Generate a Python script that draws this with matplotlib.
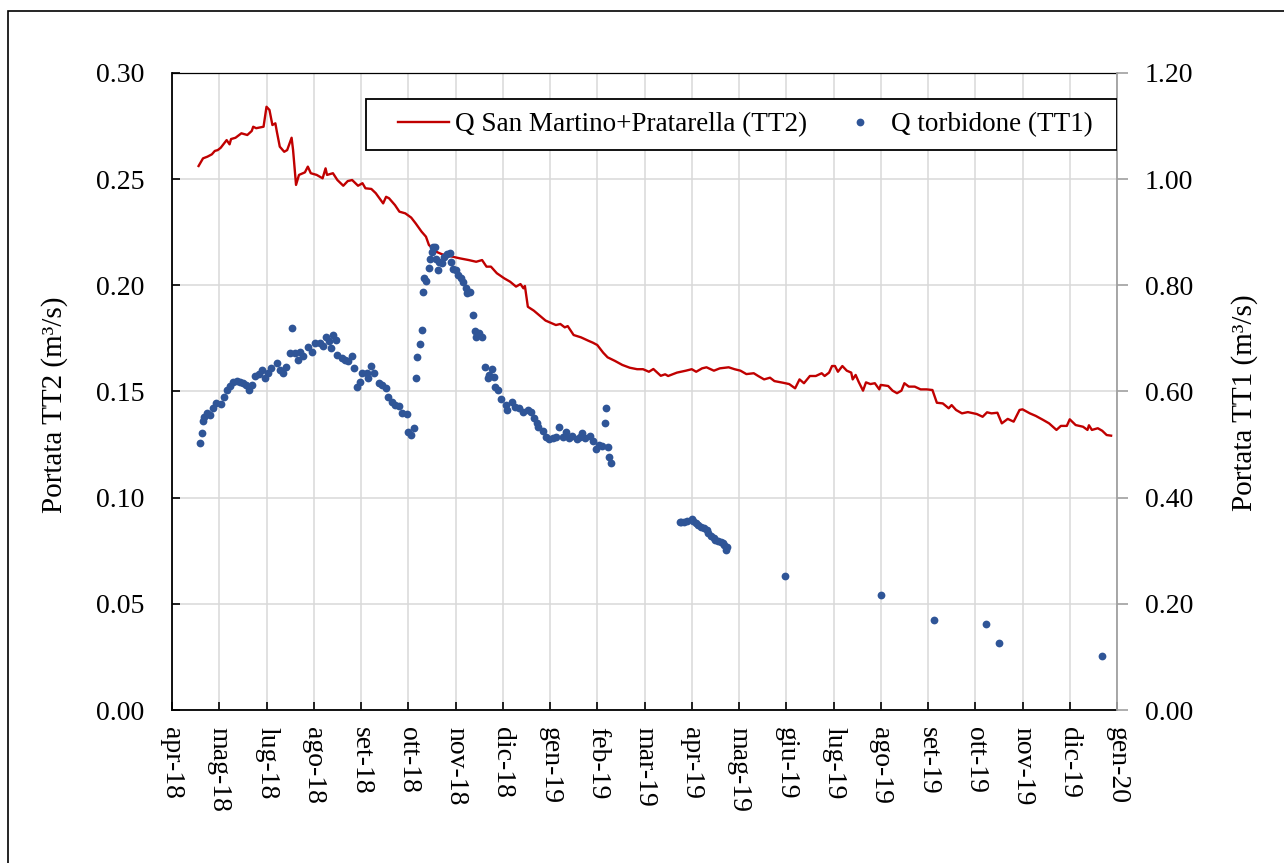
import matplotlib
matplotlib.use('Agg')
import matplotlib.pyplot as plt
import matplotlib.dates as mdates
from matplotlib.ticker import FuncFormatter, MultipleLocator
from matplotlib.patches import Rectangle
from matplotlib.lines import Line2D
import pandas as pd

plt.rcParams['font.family'] = ['Liberation Serif', 'DejaVu Serif']
plt.rcParams['font.size'] = 20

# Q San Martino+Pratarella (TT2), left axis, m3/s
tt2_dates = [
    '2018-05-17', '2018-05-20', '2018-05-23', '2018-05-26', '2018-05-28', '2018-05-30',
    '2018-06-01', '2018-06-05', '2018-06-07', '2018-06-08', '2018-06-11', '2018-06-15',
    '2018-06-19', '2018-06-22', '2018-06-23', '2018-06-25', '2018-06-30', '2018-07-02',
    '2018-07-04', '2018-07-06', '2018-07-08', '2018-07-09', '2018-07-11', '2018-07-14',
    '2018-07-16', '2018-07-19', '2018-07-20', '2018-07-22', '2018-07-24', '2018-07-28',
    '2018-07-30', '2018-08-01', '2018-08-05', '2018-08-09', '2018-08-11', '2018-08-12',
    '2018-08-16', '2018-08-19', '2018-08-23', '2018-08-26', '2018-08-29', '2018-09-02',
    '2018-09-05', '2018-09-07', '2018-09-11', '2018-09-14', '2018-09-19', '2018-09-21',
    '2018-09-23', '2018-09-27', '2018-09-30', '2018-10-04', '2018-10-08', '2018-10-11',
    '2018-10-15', '2018-10-18', '2018-10-20', '2018-10-25', '2018-10-29', '2018-11-05',
    '2018-11-10', '2018-11-16', '2018-11-21', '2018-11-25', '2018-11-28', '2018-12-01',
    '2018-12-05', '2018-12-10', '2018-12-14', '2018-12-18', '2018-12-21', '2018-12-23',
    '2018-12-24', '2018-12-26', '2018-12-30', '2019-01-07', '2019-01-14', '2019-01-17',
    '2019-01-20', '2019-01-22', '2019-01-26', '2019-01-31', '2019-02-05', '2019-02-08',
    '2019-02-11', '2019-02-15', '2019-02-18', '2019-02-23', '2019-02-28', '2019-03-05',
    '2019-03-10', '2019-03-14', '2019-03-18', '2019-03-21', '2019-03-26', '2019-03-29',
    '2019-03-31', '2019-04-06', '2019-04-12', '2019-04-16', '2019-04-19', '2019-04-23',
    '2019-04-26', '2019-05-01', '2019-05-05', '2019-05-11', '2019-05-15', '2019-05-19',
    '2019-05-23', '2019-05-28', '2019-05-31', '2019-06-04', '2019-06-08', '2019-06-11',
    '2019-06-17', '2019-06-21', '2019-06-25', '2019-06-28', '2019-07-01', '2019-07-05',
    '2019-07-09', '2019-07-13', '2019-07-15', '2019-07-18', '2019-07-20', '2019-07-22',
    '2019-07-24', '2019-07-27', '2019-07-30', '2019-08-02', '2019-08-03', '2019-08-05',
    '2019-08-07', '2019-08-10', '2019-08-12', '2019-08-15', '2019-08-18', '2019-08-21',
    '2019-08-22', '2019-08-27', '2019-08-30', '2019-09-02', '2019-09-05', '2019-09-07',
    '2019-09-10', '2019-09-14', '2019-09-18', '2019-09-22', '2019-09-26', '2019-09-29',
    '2019-10-03', '2019-10-07', '2019-10-09', '2019-10-12', '2019-10-16', '2019-10-20',
    '2019-10-26', '2019-10-30', '2019-11-02', '2019-11-05', '2019-11-09', '2019-11-12',
    '2019-11-16', '2019-11-20', '2019-11-24', '2019-11-26', '2019-12-01', '2019-12-05',
    '2019-12-10', '2019-12-14', '2019-12-19', '2019-12-22', '2019-12-26', '2019-12-28',
    '2020-01-01', '2020-01-06', '2020-01-09', '2020-01-10', '2020-01-12', '2020-01-16',
    '2020-01-19', '2020-01-22', '2020-01-25',
]
tt2_values = [
    0.2562, 0.2598, 0.2606, 0.2617, 0.2633, 0.2637,
    0.2648, 0.2684, 0.2664, 0.2689, 0.2695, 0.2716,
    0.2708, 0.2727, 0.2747, 0.2740, 0.2747, 0.2841,
    0.2826, 0.2755, 0.2763, 0.2724, 0.2653, 0.2629,
    0.2637, 0.2695, 0.2637, 0.2473, 0.2520, 0.2532,
    0.2559, 0.2528, 0.2520, 0.2504, 0.2551, 0.2520,
    0.2528, 0.2496, 0.2469, 0.2491, 0.2496, 0.2469,
    0.2481, 0.2457, 0.2454, 0.2434, 0.2386, 0.2417,
    0.2410, 0.2378, 0.2347, 0.2339, 0.2319, 0.2292,
    0.2253, 0.2229, 0.2190, 0.2158, 0.2146, 0.2135,
    0.2127, 0.2119, 0.2111, 0.2119, 0.2088, 0.2088,
    0.2057, 0.2033, 0.2017, 0.1994, 0.2006, 0.1986,
    0.1997, 0.1899, 0.1881, 0.1834, 0.1813, 0.1818,
    0.1802, 0.1808, 0.1766, 0.1755, 0.1739, 0.1730,
    0.1719, 0.1683, 0.1661, 0.1644, 0.1625, 0.1612,
    0.1605, 0.1605, 0.1593, 0.1606, 0.1574, 0.1581,
    0.1573, 0.1589, 0.1598, 0.1605, 0.1593, 0.1609,
    0.1614, 0.1598, 0.1609, 0.1614, 0.1605, 0.1598,
    0.1582, 0.1586, 0.1573, 0.1557, 0.1565, 0.1549,
    0.1541, 0.1535, 0.1515, 0.1557, 0.1539, 0.1573,
    0.1573, 0.1586, 0.1573, 0.1589, 0.1620, 0.1620,
    0.1593, 0.1620, 0.1598, 0.1589, 0.1557, 0.1578,
    0.1546, 0.1504, 0.1543, 0.1535, 0.1539, 0.1510,
    0.1531, 0.1526, 0.1504, 0.1492, 0.1504, 0.1539,
    0.1523, 0.1523, 0.1510, 0.1510, 0.1507, 0.1447,
    0.1444, 0.1421, 0.1436, 0.1413, 0.1397, 0.1403,
    0.1394, 0.1381, 0.1402, 0.1397, 0.1400, 0.1350,
    0.1371, 0.1358, 0.1413, 0.1416, 0.1397, 0.1385,
    0.1366, 0.1350, 0.1319, 0.1338, 0.1338, 0.1369,
    0.1342, 0.1334, 0.1319, 0.1341, 0.1319, 0.1327,
    0.1315, 0.1295, 0.1292,
]

# Q torbidone (TT1), right axis, m3/s
tt1_dates = [
    '2018-05-18', '2018-05-19', '2018-05-20', '2018-05-21', '2018-05-23', '2018-05-25',
    '2018-05-27', '2018-05-29', '2018-06-01', '2018-06-03', '2018-06-05', '2018-06-07',
    '2018-06-09', '2018-06-12', '2018-06-14', '2018-06-16', '2018-06-18', '2018-06-20',
    '2018-06-22', '2018-06-24', '2018-06-27', '2018-06-29', '2018-07-01', '2018-07-03',
    '2018-07-05', '2018-07-09', '2018-07-11', '2018-07-13', '2018-07-15', '2018-07-19',
    '2018-07-18', '2018-07-21', '2018-07-23', '2018-07-25', '2018-07-27', '2018-07-30',
    '2018-08-02', '2018-08-04', '2018-08-07', '2018-08-09', '2018-08-11', '2018-08-13',
    '2018-08-15', '2018-08-16', '2018-08-18', '2018-08-19', '2018-08-22', '2018-08-24',
    '2018-08-26', '2018-08-29', '2018-08-30', '2018-09-01', '2018-09-03', '2018-09-05',
    '2018-09-08', '2018-09-09', '2018-09-11', '2018-09-13', '2018-09-16', '2018-09-18',
    '2018-09-21', '2018-09-22', '2018-09-25', '2018-09-27', '2018-09-30', '2018-10-02',
    '2018-10-05', '2018-10-06', '2018-10-08', '2018-10-10', '2018-10-11', '2018-10-12',
    '2018-10-14', '2018-10-15', '2018-10-16', '2018-10-17', '2018-10-18', '2018-10-20',
    '2018-10-21', '2018-10-22', '2018-10-23', '2018-10-24', '2018-10-25', '2018-10-26',
    '2018-10-27', '2018-10-29', '2018-10-30', '2018-11-01', '2018-11-03', '2018-11-04',
    '2018-11-05', '2018-11-07', '2018-11-09', '2018-11-11', '2018-11-12', '2018-11-14',
    '2018-11-15', '2018-11-17', '2018-11-19', '2018-11-20', '2018-11-21', '2018-11-23',
    '2018-11-25', '2018-11-27', '2018-11-29', '2018-11-30', '2018-12-02', '2018-12-03',
    '2018-12-04', '2018-12-06', '2018-12-08', '2018-12-11', '2018-12-12', '2018-12-15',
    '2018-12-17', '2018-12-20', '2018-12-23', '2018-12-26', '2018-12-28', '2018-12-30',
    '2019-01-01', '2019-01-02', '2019-01-05', '2019-01-07', '2019-01-09', '2019-01-12',
    '2019-01-14', '2019-01-16', '2019-01-19', '2019-01-21', '2019-01-23', '2019-01-25',
    '2019-01-28', '2019-01-30', '2019-02-01', '2019-02-03', '2019-02-06', '2019-02-08',
    '2019-02-10', '2019-02-12', '2019-02-14', '2019-02-16', '2019-02-17', '2019-02-18',
    '2019-02-19', '2019-02-20',
    '2019-04-08', '2019-04-09', '2019-04-11', '2019-04-13', '2019-04-16', '2019-04-17',
    '2019-04-19', '2019-04-20', '2019-04-22', '2019-04-24', '2019-04-26', '2019-04-27',
    '2019-04-29', '2019-05-01', '2019-05-02', '2019-05-04', '2019-05-06', '2019-05-07',
    '2019-05-08', '2019-05-09', '2019-05-10',
    '2019-06-18', '2019-08-22', '2019-09-27', '2019-11-01', '2019-11-10', '2020-01-19',
]
tt1_values = [
    0.5024, 0.5213, 0.5450, 0.5525, 0.5589, 0.5557,
    0.5683, 0.5778, 0.5764, 0.5902, 0.6028, 0.6104,
    0.6185, 0.6203, 0.6185, 0.6154, 0.6122, 0.6028,
    0.6122, 0.6292, 0.6330, 0.6405, 0.6249, 0.6343,
    0.6437, 0.6543, 0.6405, 0.6354, 0.6467, 0.7202,
    0.6720, 0.6731, 0.6593, 0.6750, 0.6669, 0.6844,
    0.6750, 0.6919, 0.6908, 0.6857, 0.7032, 0.6957,
    0.6814, 0.7064, 0.6970, 0.6687, 0.6625, 0.6593,
    0.6580, 0.6669, 0.6437, 0.6079, 0.6185, 0.6354,
    0.6343, 0.6249, 0.6480, 0.6343, 0.6154, 0.6122,
    0.6060, 0.5902, 0.5808, 0.5746, 0.5727, 0.5601,
    0.5576, 0.5243, 0.5180, 0.5307, 0.6260, 0.6650,
    0.6895, 0.7158, 0.7880, 0.8132, 0.8087, 0.8321,
    0.8490, 0.8634, 0.8716, 0.8716, 0.8490, 0.8289,
    0.8445, 0.8415, 0.8539, 0.8590, 0.8615, 0.8445,
    0.8302, 0.8289, 0.8195, 0.8132, 0.8068, 0.7944,
    0.7850, 0.7880, 0.7441, 0.7145, 0.7032, 0.7096,
    0.7032, 0.6456, 0.6249, 0.6311, 0.6418, 0.6279,
    0.6090, 0.6028, 0.5853, 0.5746, 0.5651, 0.5808,
    0.5714, 0.5683, 0.5619, 0.5651, 0.5619, 0.5495,
    0.5401, 0.5337, 0.5261, 0.5149, 0.5099, 0.5118,
    0.5149, 0.5337, 0.5149, 0.5243, 0.5118, 0.5162,
    0.5099, 0.5149, 0.5224, 0.5118, 0.5162, 0.5073,
    0.4911, 0.4992, 0.4973, 0.5401, 0.5683, 0.4949,
    0.4772, 0.4659,
    0.3547, 0.3551, 0.3551, 0.3566, 0.3592, 0.3560,
    0.3528, 0.3494, 0.3453, 0.3429, 0.3391, 0.3334,
    0.3278, 0.3240, 0.3202, 0.3193, 0.3170, 0.3146,
    0.3108, 0.3014, 0.3065,
    0.2524, 0.2166, 0.1695, 0.1620, 0.1262, 0.1017,
]

mesi = ['gen', 'feb', 'mar', 'apr', 'mag', 'giu', 'lug', 'ago', 'set', 'ott', 'nov', 'dic']
tick_start = pd.Timestamp('2018-04-29')
tick_step = 32   # days between x ticks (excel date axis)
n_ticks = 21

red = '#C00000'
blue = '#2F5597'
grid_col = '#D9D9D9'
right_col = '#A0A0A0'

W, H = 1284, 863
fig = plt.figure(figsize=(W / 100, H / 100), dpi=100)
ax = fig.add_axes([172 / W, 1 - 710 / H, 945 / W, 637 / H])
ax2 = ax.twinx()

ax.plot(pd.to_datetime(tt2_dates), tt2_values, color=red, lw=1.7, solid_joinstyle='round')
ax2.plot(pd.to_datetime(tt1_dates), tt1_values, ls='none', marker='o', ms=5.6,
         mec='none', color=blue)

x0 = mdates.date2num(tick_start)
ticks = [x0 + tick_step * k for k in range(n_ticks)]
ax.set_xlim(x0, x0 + tick_step * (n_ticks - 1))
ax.set_xticks(ticks)

def fmt_date(x, pos):
    d = mdates.num2date(x)
    return '%s-%02d' % (mesi[d.month - 1], d.year % 100)

ax.xaxis.set_major_formatter(FuncFormatter(fmt_date))

ax.set_ylim(0, 0.30)
ax.yaxis.set_major_locator(MultipleLocator(0.05))
ax.yaxis.set_major_formatter(FuncFormatter(lambda v, p: '%.2f' % v))
ax2.set_ylim(0, 1.20)
ax2.yaxis.set_major_locator(MultipleLocator(0.20))
ax2.yaxis.set_major_formatter(FuncFormatter(lambda v, p: '%.2f' % v))

ax.grid(True, color=grid_col, lw=1.1)
ax.set_axisbelow(True)

for s in ['left', 'bottom']:
    ax.spines[s].set_color('black')
    ax.spines[s].set_linewidth(1.3)
ax.spines['top'].set_color('black')
ax.spines['top'].set_linewidth(0.9)
ax.spines['right'].set_visible(False)
for s in ['left', 'bottom', 'top']:
    ax2.spines[s].set_visible(False)
ax2.spines['right'].set_color(right_col)
ax2.spines['right'].set_linewidth(1.3)

ax.tick_params(axis='y', direction='in', length=6, width=1.2, pad=20, labelsize=20)
ax.tick_params(axis='x', direction='in', length=6, width=1.2, pad=12, labelsize=20,
               labelrotation=-90)
ax2.tick_params(axis='y', direction='out', length=8, width=1.2, color=right_col,
                pad=12, labelsize=20)

fig.text(55 / W, 1 - 405 / H, 'Portata TT2 (m³/s)', rotation=90, ha='center', va='center',
         fontsize=21)
fig.text(1245 / W, 1 - 403 / H, 'Portata TT1 (m³/s)', rotation=90, ha='center', va='center',
         fontsize=21)

# legend box
box = Rectangle((366 / W, 1 - 150 / H), (1117 - 366) / W, 51 / H, transform=fig.transFigure,
                facecolor='white', edgecolor='black', lw=1.3, zorder=4.5)
ax2.add_artist(box)
handles = [Line2D([], [], color=red, lw=1.7),
           Line2D([], [], ls='none', marker='o', ms=5.6, mec='none', color=blue)]
ax2.legend(handles, ['Q San Martino+Pratarella (TT2)', 'Q torbidone (TT1)'], ncol=2,
           loc='center left', bbox_to_anchor=(398 / W, 1 - 124.5 / H),
           bbox_transform=fig.transFigure, frameon=False, borderpad=0, borderaxespad=0,
           handlelength=1.9, handletextpad=0.2, columnspacing=1.0, fontsize=19.5)

# outer chart border
fig.add_artist(Rectangle((8 / W, -0.1), 1.2, 1.1 - 11 / H, transform=fig.transFigure,
                         fill=False, edgecolor='black', lw=1.2))

fig.savefig('out.png', dpi=100)
